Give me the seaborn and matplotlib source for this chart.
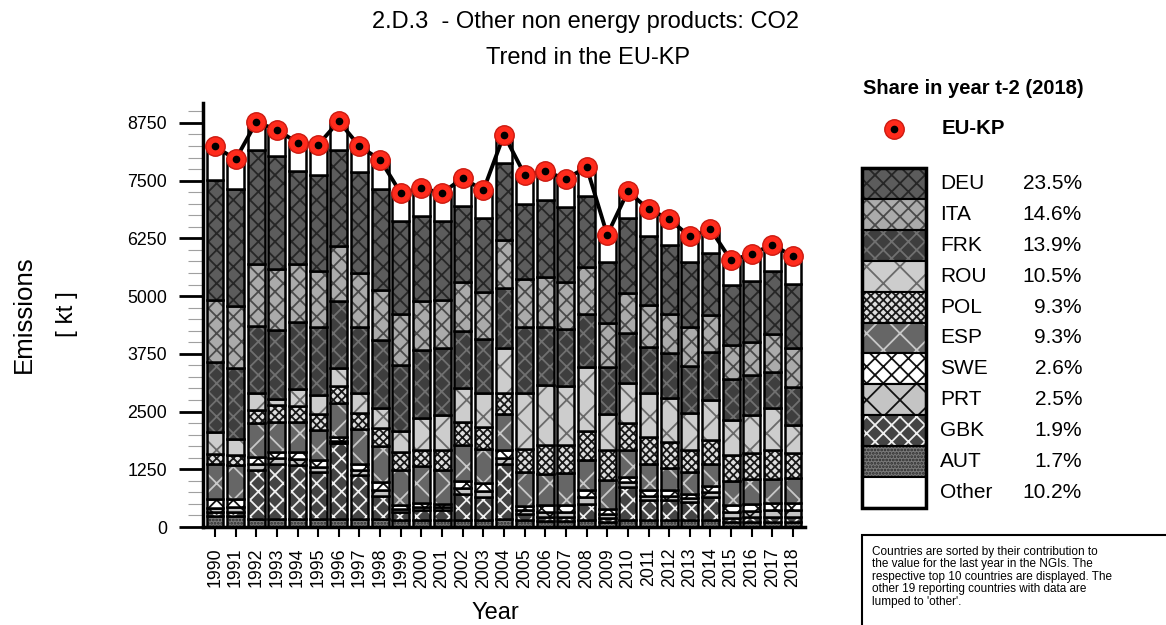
import numpy as np
import seaborn as sns
import matplotlib.pyplot as plt
from matplotlib.patches import Rectangle
from matplotlib.lines import Line2D
from matplotlib.ticker import MultipleLocator

# Data (kt CO2)
years = [str(y) for y in range(1990, 2019)]

DEU = [2589, 2531, 2458, 2443, 2003, 2083, 2082, 2169, 2191, 2002, 1822, 1699, 1627, 1591, 1678,
       1634, 1648, 1612, 1519, 1338, 1613, 1497, 1496, 1410, 1338, 1302, 1323, 1374, 1377]
ITA = [1337, 1337, 1345, 1316, 1251, 1207, 1186, 1171, 1084, 1106, 1070, 1048, 1063, 1034, 1034,
       1027, 1099, 1034, 1026, 954, 882, 904, 839, 853, 795, 745, 723, 817, 856]
FRK = [1518, 1533, 1446, 1504, 1467, 1482, 1468, 1432, 1482, 1425, 1482, 1446, 1251, 1171, 1301,
       1446, 1251, 1229, 1143, 1012, 1084, 1012, 990, 1027, 1048, 881, 868, 795, 815]
ROU = [470, 362, 375, 123, 362, 412, 383, 433, 434, 455, 673, 759, 723, 723, 962,
       1193, 1302, 1280, 1388, 767, 868, 954, 940, 795, 868, 760, 817, 904, 615]
POL = [232, 216, 290, 362, 340, 347, 376, 362, 383, 383, 361, 434, 506, 470, 462,
       506, 614, 600, 636, 650, 578, 579, 557, 470, 506, 556, 557, 615, 545]
ESP = [744, 723, 723, 650, 650, 651, 723, 737, 774, 774, 795, 723, 773, 745, 767,
       745, 687, 701, 636, 629, 578, 564, 492, 485, 492, 528, 556, 527, 545]
SWE = [200, 190, 150, 140, 160, 140, 80, 140, 170, 80, 90, 80, 160, 170, 180,
       90, 150, 150, 170, 120, 120, 120, 120, 90, 130, 150, 155, 160, 152]
PRT = [90, 90, 139, 113, 129, 113, 64, 113, 141, 65, 69, 66, 129, 133, 138,
       69, 100, 100, 134, 90, 97, 97, 97, 76, 101, 120, 125, 135, 147]
GBK = [90, 100, 1048, 1193, 1157, 1012, 1627, 940, 484, 170, 215, 215, 550, 490, 1178,
       140, 90, 90, 350, 70, 709, 420, 420, 380, 490, 100, 105, 115, 111]
AUT = [235, 235, 181, 181, 181, 181, 181, 181, 181, 155, 147, 145, 159, 161, 181,
       149, 130, 130, 156, 118, 159, 158, 158, 162, 161, 100, 107, 111, 100]
OTHER = [735, 643, 608, 579, 615, 650, 614, 564, 629, 615, 614, 615, 614, 600, 614,
         629, 629, 608, 636, 578, 578, 578, 557, 542, 520, 528, 578, 556, 598]

countries = ['DEU', 'ITA', 'FRK', 'ROU', 'POL', 'ESP', 'SWE', 'PRT', 'GBK', 'AUT', 'Other']
shares = ['23.5%', '14.6%', '13.9%', '10.5%', '9.3%', '9.3%', '2.6%', '2.5%', '1.9%', '1.7%', '10.2%']
series = {'DEU': DEU, 'ITA': ITA, 'FRK': FRK, 'ROU': ROU, 'POL': POL, 'ESP': ESP,
          'SWE': SWE, 'PRT': PRT, 'GBK': GBK, 'AUT': AUT, 'Other': OTHER}

# face colour, hatch, hatch colour
styles = {
    'DEU': ('#5c5c5c', 'xx', '#262626'),
    'ITA': ('#ababab', 'xx', '#4a4a4a'),
    'FRK': ('#3e3e3e', 'xx', '#707070'),
    'ROU': ('#cdcdcd', 'x', '#6a6a6a'),
    'POL': ('#dedede', 'xxxx', '#1a1a1a'),
    'ESP': ('#666666', 'x', '#c8c8c8'),
    'SWE': ('#ffffff', 'xx', '#111111'),
    'PRT': ('#c4c4c4', 'x', '#111111'),
    'GBK': ('#444444', 'xx', '#f0f0f0'),
    'AUT': ('#7a7a7a', '.....', '#2a2a2a'),
    'Other': ('#ffffff', None, '#ffffff'),
}

sns.set_style('ticks')
plt.rcParams['font.family'] = ['Liberation Sans', 'DejaVu Sans']
plt.rcParams['text.color'] = 'black'
plt.rcParams['xtick.color'] = 'black'
plt.rcParams['ytick.color'] = 'black'
plt.rcParams['axes.edgecolor'] = 'black'
plt.rcParams['hatch.linewidth'] = 1.3

W, H = 1166, 625
def fx(px):
    return px / W
def fy(py):
    return 1 - py / H

fig = plt.figure(figsize=(W / 100, H / 100), dpi=100)
ax = fig.add_axes([fx(203), fy(527), 602 / W, 424 / H])

# stacked bars, bottom (AUT) to top (Other)
stack_order = countries[:-1][::-1] + ['Other']
bottom = np.zeros(len(years))
for c in stack_order:
    face, hatch, hcol = styles[c]
    vals = np.array(series[c], dtype=float)
    sns.barplot(x=years, y=vals, bottom=bottom, color=face, saturation=1, hatch=hatch,
                edgecolor=hcol, linewidth=0, width=0.82, errorbar=None, ax=ax)
    sns.barplot(x=years, y=vals, bottom=bottom, color='black', fill=False, edgecolor='black',
                linewidth=1.8, width=0.82, errorbar=None, ax=ax)
    bottom = bottom + vals

totals = bottom
xpos = np.arange(len(years))
sns.lineplot(x=xpos, y=totals, color='black', linewidth=2.8, ax=ax, zorder=4)
ax.plot(xpos, totals, 'o', ms=14, mfc='#ff2b1c', mec='#cc1a10', mew=1, zorder=5, clip_on=False)
ax.plot(xpos, totals, 'o', ms=4.5, color='black', zorder=6, clip_on=False)

ax.set_xlim(-0.58, len(years) - 1 + 0.58)
ax.set_ylim(0, 9180)
ax.set_yticks([0, 1250, 2500, 3750, 5000, 6250, 7500, 8750])
ax.yaxis.set_minor_locator(MultipleLocator(250))
ax.set_xlabel('')
ax.set_ylabel('')
ax.tick_params(axis='x', rotation=90, length=7, width=1.5, pad=8, labelsize=12.8)
ax.tick_params(axis='y', which='major', length=17, width=2, pad=9, labelsize=12.8)
ax.tick_params(axis='y', which='minor', length=11, width=0.8, color='#a0a0a0')
sns.despine(ax=ax)
ax.spines['left'].set_linewidth(2.5)
ax.spines['bottom'].set_linewidth(2.5)

# titles and axis labels
fig.text(fx(585), fy(22), '2.D.3  - Other non energy products: CO2', ha='center', va='center', fontsize=17)
fig.text(fx(588), fy(58), 'Trend in the EU-KP', ha='center', va='center', fontsize=17)
fig.text(fx(24), fy(314), 'Emissions', rotation=90, ha='center', va='center', fontsize=18.6)
fig.text(fx(67), fy(314), '[ kt ]', rotation=90, ha='center', va='center', fontsize=17.5)
fig.text(fx(495), fy(613), 'Year', ha='center', va='center', fontsize=17)

# legend
fig.text(fx(863), fy(88), 'Share in year t-2 (2018)', fontweight='bold', fontsize=14.5, va='center')
fig.add_artist(Line2D([fx(894)], [fy(129)], marker='o', ms=14, mfc='#ff2b1c', mec='#cc1a10',
                      mew=1, transform=fig.transFigure))
fig.add_artist(Line2D([fx(894)], [fy(129)], marker='o', ms=4.5, color='black',
                      transform=fig.transFigure))
fig.text(fx(942), fy(129), 'EU-KP', fontweight='bold', fontsize=14.7, va='center')

row_h = 340 / len(countries)
for i, c in enumerate(countries):
    face, hatch, hcol = styles[c]
    top = 168 + i * row_h
    fig.add_artist(Rectangle((fx(862), fy(top + row_h)), 64 / W, row_h / H, facecolor=face,
                             hatch=hatch, edgecolor=hcol, linewidth=0, transform=fig.transFigure))
    fig.add_artist(Rectangle((fx(862), fy(top + row_h)), 64 / W, row_h / H, fill=False,
                             edgecolor='black', linewidth=1.5, transform=fig.transFigure))
    fig.text(fx(940), fy(top + row_h / 2), c, va='center', fontsize=15)
    fig.text(fx(1082), fy(top + row_h / 2), shares[i], va='center', ha='right', fontsize=15)
fig.add_artist(Rectangle((fx(862), fy(508)), 64 / W, 340 / H, fill=False,
                         edgecolor='black', linewidth=2.5, transform=fig.transFigure))

# note box
note = ("Countries are sorted by their contribution to\n"
        "the value for the last year in the NGIs. The\n"
        "respective top 10 countries are displayed. The\n"
        "other 19 reporting countries with data are\n"
        "lumped to 'other'.")
fig.add_artist(Rectangle((fx(862), fy(640)), 320 / W, 105 / H, fill=False,
                         edgecolor='black', linewidth=1.5, transform=fig.transFigure))
fig.text(fx(872), fy(546), note, va='top', fontsize=8.5, linespacing=1.05)

fig.savefig('out.png', dpi=100)
